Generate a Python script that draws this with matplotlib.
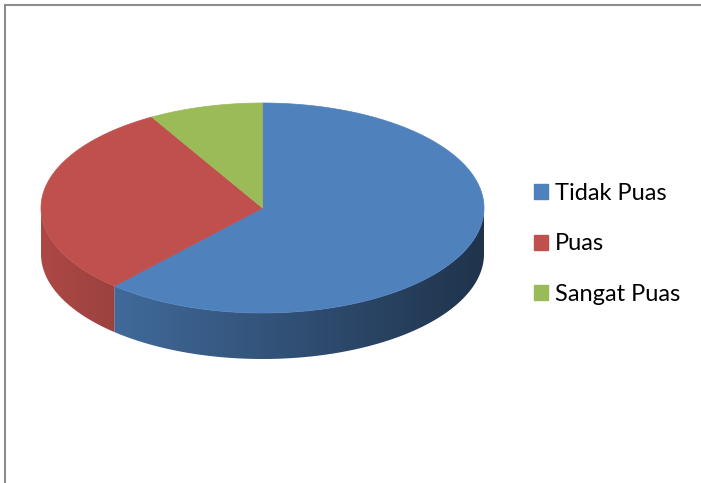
#!/usr/bin/env python3
"""3D-style pie chart of satisfaction levels (Tidak Puas / Puas / Sangat Puas)."""

import numpy as np
import matplotlib.pyplot as plt
from matplotlib.colors import to_rgb
from matplotlib.patches import Polygon, Patch
from matplotlib.lines import Line2D

labels = ["Tidak Puas", "Puas", "Sangat Puas"]
values = [37, 18, 5]
colors = ["#4f81bd", "#c0504d", "#9bbb59"]

W, H = 701, 483
CX, CY = 262.5, 208.0
RX, RY = 221.5, 105.0
DEPTH = 46.0


def rim(theta):
    t = np.radians(theta)
    return CX + RX * np.cos(t), CY - RY * np.sin(t)


def side_factor(x):
    frac = (x - (CX - RX)) / (2 * RX)
    return 0.90 - 0.50 * frac


def main():
    fig = plt.figure(figsize=(W / 100, H / 100), dpi=100)
    ax = fig.add_axes([0, 0, 1, 1])
    ax.set_xlim(0, W)
    ax.set_ylim(H, 0)
    ax.axis("off")

    total = float(sum(values))
    # slices run clockwise from 12 o'clock
    bounds = 90.0 - 360.0 * np.concatenate([[0.0], np.cumsum(values)]) / total

    # side walls: front half of each slice, shaded darker to the right
    for i, color in enumerate(colors):
        a0, a1 = bounds[i + 1] % 360, bounds[i] % 360
        if a1 <= a0:
            a1 += 360
        lo, hi = max(a0, 180.0), min(a1, 360.0)
        if hi <= lo:
            continue
        thetas = np.linspace(lo, hi, 300)
        xs, ys = rim(thetas)
        pts = list(zip(xs, ys)) + list(zip(xs[::-1], ys[::-1] + DEPTH))
        poly = Polygon(pts, closed=True, facecolor="none", edgecolor="none")
        ax.add_patch(poly)
        gx = np.linspace(xs.min(), xs.max(), 256)
        rgb = np.array(to_rgb(color))
        grad = np.clip(side_factor(gx)[:, None] * rgb[None, :], 0, 1)
        img = ax.imshow(grad[None, :, :], aspect="auto", interpolation="bilinear",
                        extent=(xs.min(), xs.max(), ys.max() + DEPTH, ys.min()),
                        zorder=2)
        img.set_clip_path(poly)

    # top faces
    for i, color in enumerate(colors):
        a0, a1 = bounds[i + 1], bounds[i]
        thetas = np.linspace(a0, a1, 300)
        xs, ys = rim(thetas)
        pts = [(CX, CY)] + list(zip(xs, ys))
        ax.add_patch(Polygon(pts, closed=True, facecolor=color,
                             edgecolor=color, linewidth=0.5, zorder=3))

    ax.set_xlim(0, W)
    ax.set_ylim(H, 0)

    handles = [Patch(facecolor=c, edgecolor=c) for c in colors]
    fig.legend(
        handles, labels,
        loc="center left",
        bbox_to_anchor=(522 / W, 1 - 244 / H),
        frameon=False,
        prop={"family": "Lato", "size": 17},
        handlelength=0.6, handleheight=0.6,
        handletextpad=0.28, labelspacing=1.25,
        borderpad=0.0,
    )

    # chart frame
    fig.add_artist(Line2D([5 / W, 5 / W], [0, 1 - 4.5 / H],
                          transform=fig.transFigure, color="#8c8c8c", lw=1.5))
    fig.add_artist(Line2D([5 / W, 1], [1 - 4.5 / H, 1 - 4.5 / H],
                          transform=fig.transFigure, color="#8c8c8c", lw=1.5))

    fig.savefig("out.png", dpi=100, facecolor="white")


if __name__ == "__main__":
    main()
